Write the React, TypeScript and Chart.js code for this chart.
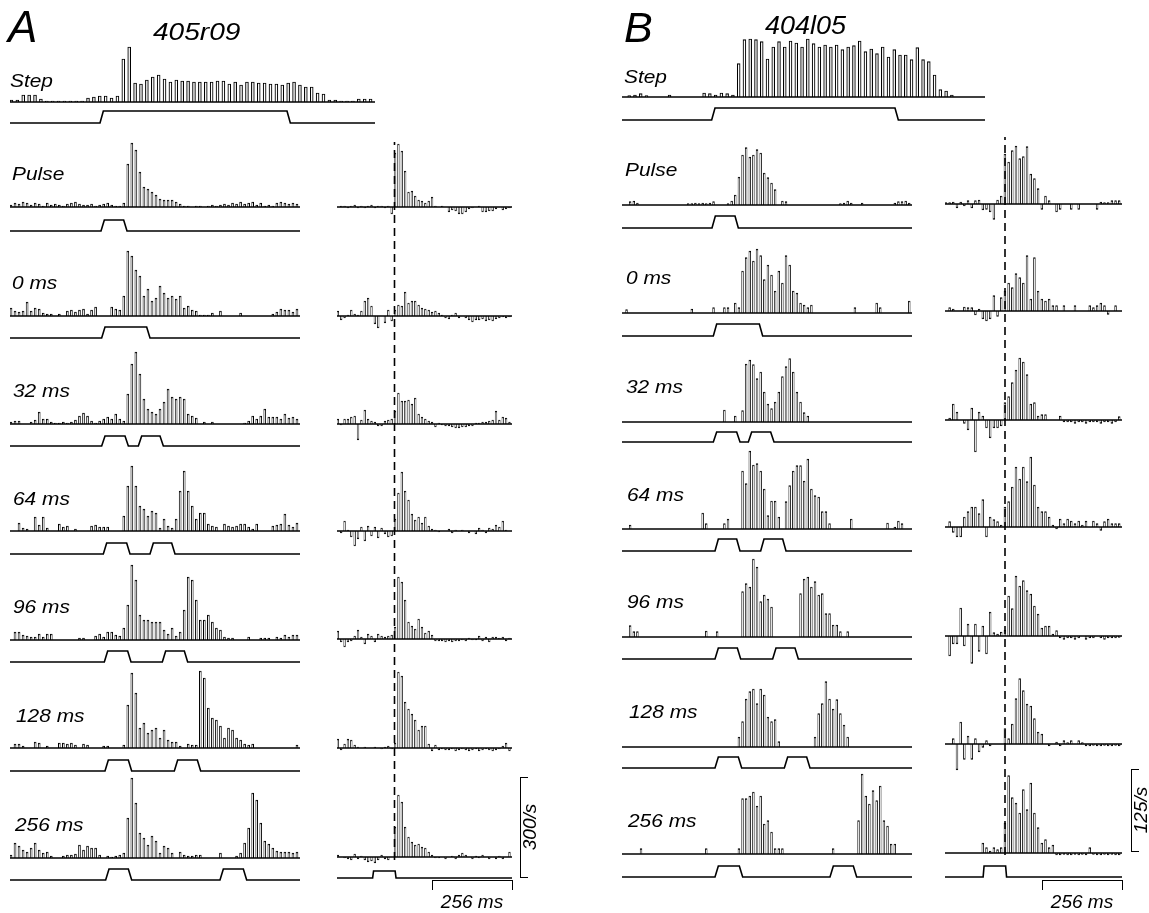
import React, { useEffect, useRef } from "react";
import { Chart, registerables } from "chart.js";
Chart.register(...registerables);

// ===================== DATA : panel A (405r09), spikes/s =====================
const A_STEP = [6,6,21,21,21,9,3,3,3,3, 3,3,3,12,15,18,18,12,18,129, 165,57,54,66,75,81,69,60,66,63, 63,60,60,60,60,63,63,54,60,51, 60,60,57,57,54,54,51,57,60,51, 45,45,27,24,6,6,3,3,3,9, 9,9];
const A_PULSE = [6,12,9,15,12,6,12,9,3,12,6,9,6,3,9,12,15,9,6,6,9,3,6,9,12,6,3,3,12, 129,192,171,105,60,54,45,36,24,21,21,21,15,9,3,3,0,3,3,0,3,6,3,6,9,6,12,9,15,9,12,15,6,12,3,6,3,12,15,12,9,12,9];
const A_0MS = [24,15,12,15,42,15,24,21,9,6,6,0,6,0,15,18,12,18,21,6,18,27,0,0,0,27,21,18, 60,195,180,138,120,60,81,45,54,90,69,54,60,51,60,24,30,18,15,3,3,3,9,0,15, 0,0,0,0, 9, 0,0,0,0,0,0,0, 6,12,21,18,18,12,21];
const A_32MS = [6,9,9,0,0,6,12,36,15,15,6,3,3,6,3,6,12,24,33,24,9,3,9,15,21,15,30,15,9, 90,180,216,150,75,45,36,30,45,66,105,81,75,81,75,30,24,18,0, 6,0,6,0,0,0,0,0,0,0, 3,9,24,15,24,45,21,21,21,15,30,18,21,15];
const A_64MS = [0,0,24,9,6,0,42,18,42,9, 0,0,21,12,15,0,6,0,0,0, 15,18,12,12,12,0,0,0,45,135, 195,135,75,66,45,60,54,9,36,15, 9,36,120,180,120,75,36,54,54,21, 15,12,0,21,15,12,15,21,21,12, 6,21,0,0,0,15,18,21,51,18, 12,24];
const A_96MS = [0,24,24,15,12,9,9,18,9,18, 18,0,0,0,0,0,0,6,6,0, 0,12,18,9,24,24,15,12,36,105, 225,180,75,60,60,54,54,54,30,18, 36,12,24,90,189,180,120,60,60,75, 54,36,30,9,6,6,0,0,0,9, 0,0,6,6,6,0,9,6,15,9, 15,15];
const A_128MS = [0,12,12,6,0,0,18,15,0,6, 0,0,15,15,12,15,9,0,12,9, 0,0,0,6,6,0,0,0,9,129, 225,165,60,75,45,54,60,30,54,24, 18,18,6,0,12,9,9,231,210,120, 90,84,66,30,60,54,30,24,12,9, 12,0,0,0,0,0,0,0,0,0, 0,9];
const A_256MS = [9,45,36,24,18,30,45,24,15,18, 6,0,0,6,9,9,12,39,24,36, 30,30,9,0,6,3,6,9,15,120, 240,165,75,60,39,66,51,15,36,30, 15,0,18,9,6,6,9,9,0,0, 0,0,15,0,0,0,6,15,45,90, 195,174,105,51,42,30,21,18,18,18, 15,18];

// difference histograms (right column of A)
const A_R_PULSE = [0,3,3,-3,3,6,-3,3,-3,3, 6,-3,3,3,-3,3,-21,162,189,168, 108,45,48,33,21,18,12,18,30,3, 0,3,0,-15,-9,-12,-21,-21,-15,-6, -3,0,3,-15,-15,-12,-12,-6,0,-9, -6,-3];
const A_R_0MS = [15,-12,-6,3,18,6,3,15,45,54, 30,-24,-36,0,-21,18,-15,18,33,30, 72,39,45,45,33,24,21,18,12,15, 9,3,-6,-9,3,9,-6,0,-6,-12, -18,-12,-12,-9,-15,-12,-15,-9,-6,-3, -6,-3];
const A_R_32MS = [15,-3,15,15,21,24,-48,12,42,15, 9,6,-6,-6,9,12,15,39,93,69, 69,72,60,78,30,21,15,9,6,-9, 3,-3,-6,-6,-9,-12,-12,-9,-9,-6, -6,3,3,6,6,9,12,39,12,21, 18,6];
const A_R_64MS = [0,-6,30,3,-18,-45,-24,12,-30,15, -15,12,-21,9,-9,-18,-15,36,114,177, 120,93,51,33,42,24,42,15,6,3, -3,0,0,6,-6,3,0,3,0,-6, 0,-9,9,3,-6,9,6,18,12,30, 3,0];
const A_R_96MS = [24,-9,-24,-9,-6,9,27,6,-15,15, 9,-9,15,9,6,9,12,36,186,171, 117,51,39,30,60,36,18,24,12,-6, -6,-6,-9,-6,-9,-6,-6,-3,-6,3, -3,-3,9,-6,6,-9,6,6,3,6, -6,3];
const A_R_128MS = [27,-6,12,27,24,9,3,0,3,0, 0,3,0,-3,3,6,-3,15,228,216, 138,117,102,84,54,66,66,12,-9,9, -6,-3,-6,-6,-3,-9,-6,-3,-6,-9, -6,-3,-9,-6,-3,-6,-9,-6,-3,6, 15,-9];
const A_R_256MS = [6,0,-3,-6,-9,9,-6,3,-9,-15, -12,-18,-9,6,-6,-9,0,90,186,165, 90,60,45,36,39,30,27,15,6,-3, -3,0,-6,0,3,-6,6,12,6,0, -6,3,-3,6,0,-6,0,-6,3,-6, 0,15];

// ===================== DATA : panel B (404l05), spikes/s =====================
const B_STEP = [0,2,3,5,2,0,0,0,3,0, 0,0,0,0,6,5,3,6,5,3, 50,86,87,86,83,57,75,83,75,84, 81,75,87,80,75,78,75,78,71,75, 77,84,68,72,65,75,60,71,63,63, 56,74,56,53,33,11,9,3, 0,0,0,0,0];
const B_PULSE = [0,0,5,6,3, 0,0,0,0,0,0,0,0,0,0,0,0,0, 2,2,3,2,3,2,3,5, 0,0,0, 2,6,15,42,75,86,72,75,83,78,48,41,33,23, 0,6,5, 0,0,0,0,0,0,0,0,0,0,0,0,0,0, 2,3,6,3,0,0,3, 0,0,0,0,0,0,0,0, 3,5,5,6,3];
const B_0MS = [0,5, 0,0,0,0,0,0,0,0,0,0,0,0,0,0,0,0,0, 6, 0,0,0,0,0, 8,0,0,8,8,0,15,8, 63,83,93,78,96,86,50,72,57,33,63,45,86,72,33,30,15,12,8,12, 0,0,0,0,0,0,0,0,0,0,0, 8, 0,0,0,0,0, 15,8, 0,0,0,0,0,0,0, 18];
const B_32MS = [0,0,0,0,0,0,0,0,0,0, 0,0,0,0,0,0,0,0,0,0, 0,0,0,0,0,0,0,0, 18,0,0,9,0,17, 87,93,86,65,75,45,27,20,30,45,68,83,95,75,45,30,14, 9, 0,0,0,0,0,0,0,0,0,0, 0,0,0,0,0,0,0,0,0,0, 0,0,0,0,0,0,0,0];
const B_64MS = [0,0,6, 0,0,0,0,0,0,0,0,0,0,0,0,0,0,0,0,0,0,0, 24,8, 0,0,0,0, 8,15, 0,0,0, 87,68,117,96,98,87,60,20,42,42,18, 0, 41,65,87,95,95,72,105,60,50,48,26,26,8, 0,0,0,0,0, 15, 0,0,0,0,0,0,0,0,0, 9,0,3,12,8,0,0];
const B_96MS = [0,0,17,8,8, 0,0,0,0,0,0,0,0,0,0,0,0,0,0,0,0,0,0, 9,0,0,8, 0,0,0,0,0,0, 68,80,75,117,105,53,63,57,45, 0,0,0,0,0,0,0, 65,87,90,75,83,63,65,35,35,18,18,8, 0,8, 0,0,0,0,0,0,0,0,0,0,0,0,0,0,0,0,0];
const B_128MS = [0,0,0,0,0,0,0,0,0,0, 0,0,0,0,0,0,0,0,0,0, 0,0,0,0,0,0,0,0,0,0, 0,0, 15,38,72,83,87,65,87,78,45,38,41,8, 0,0,0,0,0,0,0,0,0, 15,50,65,98,72,57,71,50,33,15, 0,0,0,0,0,0,0,0,0,0,0,0,0,0,0,0,0];
const B_256MS = [0,0,0,0,0, 8, 0,0,0,0,0,0,0,0,0,0,0,0,0,0,0,0,0, 8, 0,0,0,0,0,0,0,0, 8, 83,83,87,93,72,87,45,50,33,8, 8,8, 0,0,0,0,0,0,0,0,0,0,0,0,0, 8, 0,0,0,0,0,0, 50,120,87,75,95,80,102,50,42,15,15, 0,0,0,0];

const B_R_PULSE = [2,2,3,-6,3,-3,5,-6,5,6, -9,-8,-12,-23,6,12,75,63,80,87, 68,71,86,45,38,23,-8,12,5,0, -12,-8,0,0,-8,0,-8,0,0,0, 0,-8,3,2,2,5,5,5];
const B_R_0MS = [0,5,3,0,0,6,5,5,-6,3, -12,-15,-12,23,-8,20,30,42,35,56, 50,42,83,18,80,30,18,15,18,8, 8,0,8,0,0,8,0,0,0,8, 5,8,12,8,-5,0,8,0];
const B_R_32MS = [0,3,24,12,0,-5,-15,18,-48,12, 6,-12,-27,-12,-12,-9,26,35,56,75, 93,87,68,24,26,6,8,8,0,0, 0,6,-3,-3,-3,-5,-3,-3,-5,-3, -3,-3,-5,-3,-3,-5,-3,5];
const B_R_64MS = [0,8,-8,-15,-15,15,23,30,30,20, 41,-15,15,11,8,3,30,38,60,90, 72,90,68,105,63,30,23,23,15,3, -3,12,5,12,9,5,9,3,9,0, 9,5,-5,8,12,5,5,5];
const B_R_96MS = [0,-30,-12,-12,42,-15,18,-41,18,-23, 15,-27,36,5,3,6,9,60,41,90, 75,83,68,63,45,33,12,15,15,3, 8,-3,-5,-3,-3,-5,-3,0,-5,-3, -3,0,-3,-5,-3,-3,-3,-2];
const B_R_128MS = [0,0,8,-39,33,-23,12,-23,8,-12, -5,5,-3,0,0,0,23,8,30,68, 98,80,60,57,38,18,15,0,-3,0, 3,-3,5,2,5,0,5,2,-3,-3, -2,-3,-3,-2,-3,-3,-2,-3];
const B_R_256MS = [0,0,0,0,0,0,0,0,0,0, 15,8,3,8,5,8,45,116,83,75, 60,95,65,105,60,38,15,20,8,12, -3,-3,-2,-3,-3,-2,-3,-2,-3,8, -2,-3,-3,-2,-3,-2,-3,-3];

// ===================== stimulus timing (ms, [onset, offset]) =====================
const A_STIM = [
  [[-3, 558]],
  [[0, 68]],
  [[2, 137]],
  [[2, 72], [112, 177]],
  [[7, 77], [147, 212]],
  [[10, 80], [184, 250]],
  [[12, 82], [220, 289]],
  [[14, 82], [357, 427]],
];
const B_STIM = [
  [[-1, 549]],
  [[0, 69]],
  [[4, 142]],
  [[4, 74], [109, 176]],
  [[9, 74], [146, 212]],
  [[9, 76], [182, 249]],
  [[9, 79], [217, 284]],
  [[9, 82], [354, 424]],
];
const RIGHT_STIM = [[-70, 2]];

const ROW_LABELS = ["Step", "Pulse", "0 ms", "32 ms", "64 ms", "96 ms", "128 ms", "256 ms"];
const TIME_BAR_MS = 256;
const A_RATE_BAR = 300;
const B_RATE_BAR = 125;

// ===================== layout (pixels) =====================
const A_UNITS_PER_PX = 3;
const B_UNITS_PER_PX = 1.5;
const A_LEFT_BASE = [102, 207, 316, 424, 531, 640, 748, 858];
const A_LEFT_TRACE = [[111, 123], [220, 231], [327, 338], [436, 446], [543, 554], [651, 662], [760, 771], [869, 880]];
const A_RIGHT_BASE = [207, 316, 424, 531, 639, 748, 857];
const B_LEFT_BASE = [97, 205, 313, 422, 529, 637, 747, 854];
const B_LEFT_TRACE = [[108, 120], [216, 228], [324, 336], [432, 442], [539, 551], [648, 659], [757, 768], [866, 877]];
const B_RIGHT_BASE = [204, 311, 420, 527, 636, 744, 853];

const FONT = '"Liberation Sans", Arial, Helvetica, sans-serif';

type Col = { left: number; right: number; zeroX: number; msPerPx: number };
const A_STEP_COL: Col = { left: 10, right: 375, zeroX: 101, msPerPx: 3 };
const A_LEFT_COL: Col = { left: 10, right: 300, zeroX: 101, msPerPx: 3 };
const A_RIGHT_COL: Col = { left: 337, right: 512, zeroX: 394.5, msPerPx: 3.2 };
const B_STEP_COL: Col = { left: 622, right: 985, zeroX: 712, msPerPx: 3 };
const B_LEFT_COL: Col = { left: 622, right: 912, zeroX: 712, msPerPx: 3 };
const B_RIGHT_COL: Col = { left: 945, right: 1122, zeroX: 1005, msPerPx: 3.2 };

function tRange(c: Col): [number, number] {
  return [(c.left - c.zeroX) * c.msPerPx, (c.right - c.zeroX) * c.msPerPx];
}

function Hist(props: {
  col: Col; baseline: number; bins: number[]; unitsPerPx: number;
  pulses?: number[][]; ramp?: number; trace?: number[];
}) {
  const ref = useRef<HTMLCanvasElement>(null);
  const { col, baseline, bins, unitsPerPx, pulses, ramp = 10, trace } = props;
  const top = baseline - 92;
  const bottom = baseline + 40;
  const H = bottom - top;
  const W = col.right - col.left;
  useEffect(() => {
    const [t0, t1] = tRange(col);
    const b = baseline - top;
    const datasets: any[] = [
      {
        type: "bar", data: bins, xAxisID: "x", yAxisID: "y",
        backgroundColor: "#ffffff", borderColor: "#000", borderWidth: 1.1,
        barPercentage: 1, categoryPercentage: 1, order: 2,
      },
      {
        type: "line", data: [{ x: t0, y: 0 }, { x: t1, y: 0 }], xAxisID: "x2", yAxisID: "y",
        borderColor: "#000", borderWidth: 1.4, pointRadius: 0, order: 1, clip: false,
      },
    ];
    let y2min = 0, y2max = 1;
    if (pulses && trace) {
      const pts: { x: number; y: number }[] = [{ x: t0, y: 0 }];
      pulses.forEach(([on, off]) => {
        pts.push({ x: on, y: 0 }, { x: on + ramp, y: 1 }, { x: off, y: 1 }, { x: off + ramp, y: 0 });
      });
      pts.push({ x: t1, y: 0 });
      const [hi, lo] = trace;
      const d = lo - hi;
      y2max = (lo - top) / d;
      y2min = -(bottom - lo) / d;
      datasets.push({
        type: "line", data: pts, xAxisID: "x2", yAxisID: "y2",
        borderColor: "#000", borderWidth: 1.6, pointRadius: 0, tension: 0, order: 0, clip: false,
      });
    }
    const chart = new Chart(ref.current as HTMLCanvasElement, {
      type: "bar",
      data: { labels: bins.map((_, i) => String(i)), datasets },
      options: {
        animation: false, responsive: false, maintainAspectRatio: false, devicePixelRatio: 1,
        events: [], layout: { padding: 0 },
        plugins: { legend: { display: false }, tooltip: { enabled: false } },
        scales: {
          x: { type: "category", display: false, offset: true },
          x2: { type: "linear", display: false, min: t0, max: t1, offset: false, grid: { offset: false } },
          y: { type: "linear", display: false, min: -(H - b) * unitsPerPx, max: b * unitsPerPx },
          y2: { type: "linear", display: false, min: y2min, max: y2max },
        },
      } as any,
    });
    return () => chart.destroy();
  }, []);
  return (
    <canvas ref={ref} width={W} height={H}
      style={{ position: "absolute", left: col.left, top, width: W, height: H }} />
  );
}

function Dashed(props: { col: Col; y0: number; y1: number }) {
  const ref = useRef<HTMLCanvasElement>(null);
  const { col, y0, y1 } = props;
  const W = col.right - col.left;
  const H = y1 - y0;
  useEffect(() => {
    const [t0, t1] = tRange(col);
    const chart = new Chart(ref.current as HTMLCanvasElement, {
      type: "line",
      data: { datasets: [{ data: [{ x: 0, y: 0 }, { x: 0, y: 1 }], borderColor: "#000", borderWidth: 1.6, borderDash: [8, 5], pointRadius: 0 }] },
      options: {
        animation: false, responsive: false, maintainAspectRatio: false, devicePixelRatio: 1,
        events: [], layout: { padding: 0 },
        plugins: { legend: { display: false }, tooltip: { enabled: false } },
        scales: { x: { type: "linear", display: false, min: t0, max: t1, offset: false }, y: { type: "linear", display: false, min: 0, max: 1 } },
      } as any,
    });
    return () => chart.destroy();
  }, []);
  return <canvas ref={ref} width={W} height={H} style={{ position: "absolute", left: col.left, top: y0, width: W, height: H, pointerEvents: "none" }} />;
}

function Txt(props: { x: number; base: number; size: number; text: string; sx?: number }) {
  const { x, base, size, text, sx = 1.1 } = props;
  return (
    <div style={{
      position: "absolute", left: x, top: base - 0.8465 * size, fontSize: size, lineHeight: `${size}px`,
      fontFamily: FONT, fontStyle: "italic", whiteSpace: "nowrap", color: "#000",
      transform: `scaleX(${sx})`, transformOrigin: "0 0",
    }}>{text}</div>
  );
}

function RateBar(props: { x: number; bottom: number; rate: number; unitsPerPx: number; label: string }) {
  const h = props.rate / props.unitsPerPx;
  return (
    <>
      <div style={{ position: "absolute", left: props.x, top: props.bottom - h, width: 7, height: h - 1.5,
        borderLeft: "1.5px solid #000", borderTop: "1.5px solid #000", borderBottom: "1.5px solid #000" }} />
      <div style={{ position: "absolute", left: props.x + 10 - 40, top: props.bottom - h / 2 - 10, width: 80, height: 20,
        transform: "rotate(-90deg)", textAlign: "center", fontFamily: FONT, fontStyle: "italic", fontSize: 19,
        lineHeight: "20px", color: "#000", whiteSpace: "nowrap" }}>{props.label}</div>
    </>
  );
}

function TimeBar(props: { right: number; y: number; msPerPx: number; label: string }) {
  const w = TIME_BAR_MS / props.msPerPx;
  return (
    <>
      <div style={{ position: "absolute", left: props.right - w, top: props.y, width: w - 1.5, height: 9,
        borderLeft: "1.5px solid #000", borderTop: "1.5px solid #000", borderRight: "1.5px solid #000" }} />
      <div style={{ position: "absolute", left: props.right - w, top: props.y + 12, width: w, textAlign: "center",
        fontFamily: FONT, fontStyle: "italic", fontSize: 19, lineHeight: "19px", color: "#000", whiteSpace: "nowrap" }}>{props.label}</div>
    </>
  );
}

const A_LEFT_DATA = [A_STEP, A_PULSE, A_0MS, A_32MS, A_64MS, A_96MS, A_128MS, A_256MS];
const A_RIGHT_DATA = [A_R_PULSE, A_R_0MS, A_R_32MS, A_R_64MS, A_R_96MS, A_R_128MS, A_R_256MS];
const B_LEFT_DATA = [B_STEP, B_PULSE, B_0MS, B_32MS, B_64MS, B_96MS, B_128MS, B_256MS];
const B_RIGHT_DATA = [B_R_PULSE, B_R_0MS, B_R_32MS, B_R_64MS, B_R_96MS, B_R_128MS, B_R_256MS];

const A_LABEL_POS = [[10, 87], [12, 180], [12, 289], [13, 397], [13, 505], [13, 613], [16, 722], [15, 831]];
const B_LABEL_POS = [[624, 83], [625, 176], [626, 284], [626, 393], [627, 501], [627, 608], [629, 718], [628, 827]];

export default function App() {
  return (
    <div style={{ position: "absolute", left: 0, top: 0, width: 1149, height: 913, background: "#fff", overflow: "hidden" }}>
      {A_LEFT_DATA.map((d, i) => (
        <Hist key={"al" + i} col={i === 0 ? A_STEP_COL : A_LEFT_COL} baseline={A_LEFT_BASE[i]} bins={d}
          unitsPerPx={A_UNITS_PER_PX} pulses={A_STIM[i]} trace={A_LEFT_TRACE[i]} ramp={10} />
      ))}
      {A_RIGHT_DATA.map((d, i) => (
        <Hist key={"ar" + i} col={A_RIGHT_COL} baseline={A_RIGHT_BASE[i]} bins={d} unitsPerPx={A_UNITS_PER_PX}
          pulses={i === 6 ? RIGHT_STIM : undefined} trace={i === 6 ? [871, 878] : undefined} ramp={3} />
      ))}
      {B_LEFT_DATA.map((d, i) => (
        <Hist key={"bl" + i} col={i === 0 ? B_STEP_COL : B_LEFT_COL} baseline={B_LEFT_BASE[i]} bins={d}
          unitsPerPx={B_UNITS_PER_PX} pulses={B_STIM[i]} trace={B_LEFT_TRACE[i]} ramp={10} />
      ))}
      {B_RIGHT_DATA.map((d, i) => (
        <Hist key={"br" + i} col={B_RIGHT_COL} baseline={B_RIGHT_BASE[i]} bins={d} unitsPerPx={B_UNITS_PER_PX}
          pulses={i === 6 ? RIGHT_STIM : undefined} trace={i === 6 ? [866, 877] : undefined} ramp={3} />
      ))}
      <Dashed col={A_RIGHT_COL} y0={142} y1={860} />
      <Dashed col={B_RIGHT_COL} y0={137} y1={855} />

      {ROW_LABELS.map((t, i) => (
        <Txt key={"la" + i} x={A_LABEL_POS[i][0]} base={A_LABEL_POS[i][1]} size={19} text={t} />
      ))}
      {ROW_LABELS.map((t, i) => (
        <Txt key={"lb" + i} x={B_LABEL_POS[i][0]} base={B_LABEL_POS[i][1]} size={19} text={t} />
      ))}
      <Txt x={8} base={42} size={44} text="A" sx={1} />
      <Txt x={624} base={42} size={43} text="B" sx={1} />
      <Txt x={153} base={40} size={24} text="405r09" sx={1.17} />
      <Txt x={765} base={34} size={25} text="404l05" sx={1.08} />

      <RateBar x={520} bottom={877} rate={A_RATE_BAR} unitsPerPx={A_UNITS_PER_PX} label="300/s" />
      <RateBar x={1131} bottom={852} rate={B_RATE_BAR} unitsPerPx={B_UNITS_PER_PX} label="125/s" />
      <TimeBar right={512} y={880} msPerPx={A_RIGHT_COL.msPerPx} label="256 ms" />
      <TimeBar right={1122} y={880} msPerPx={B_RIGHT_COL.msPerPx} label="256 ms" />
    </div>
  );
}
